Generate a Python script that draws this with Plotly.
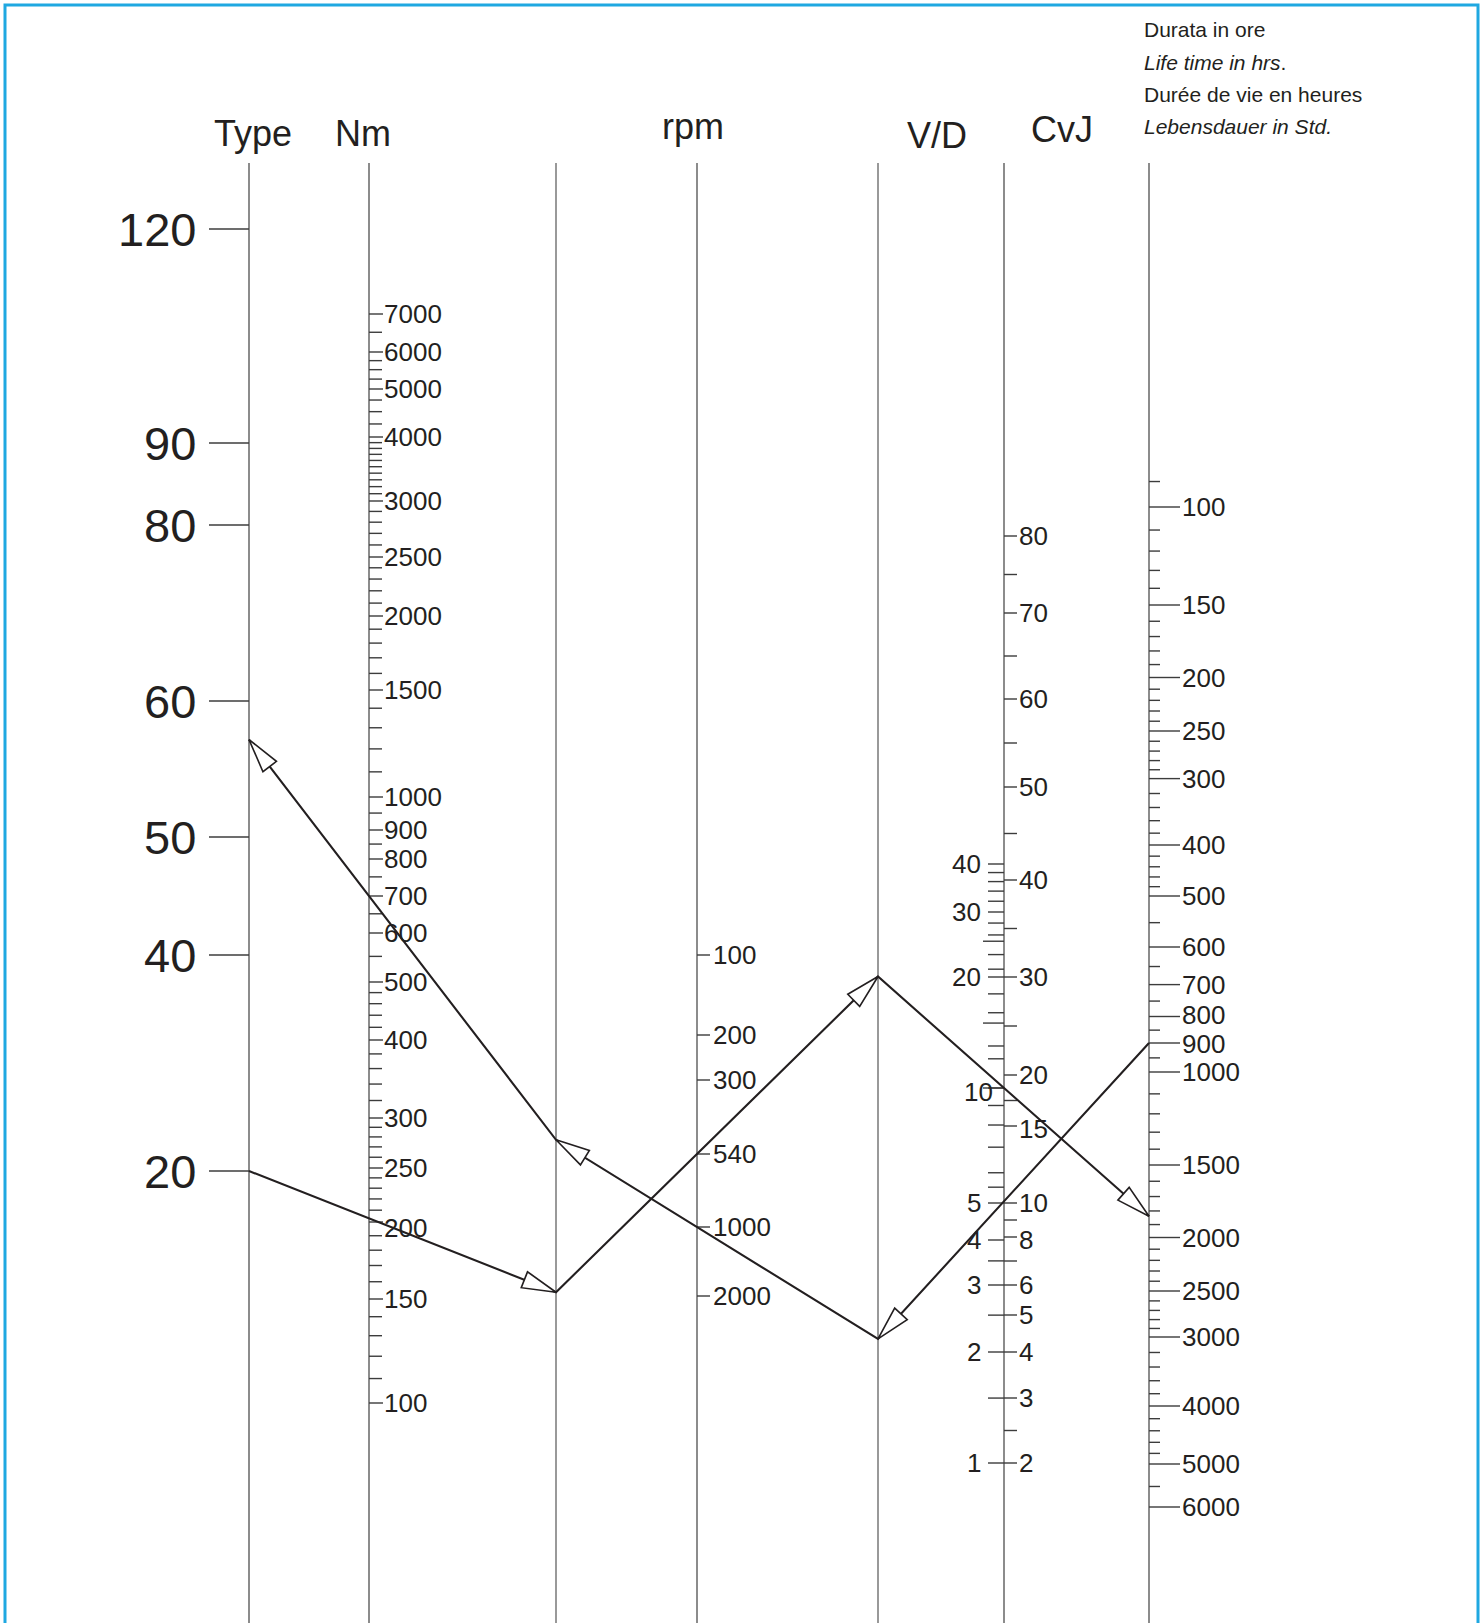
import numpy as np
import plotly.graph_objects as go

W, H = 1483, 1623

# ---------------------------------------------------------------- scale values
type_labels = [120, 90, 80, 60, 50, 40, 20]
nm_labels = [100, 150, 200, 250, 300, 400, 500, 600, 700, 800, 900, 1000,
             1500, 2000, 2500, 3000, 4000, 5000, 6000, 7000]
rpm_labels = [100, 200, 300, 540, 1000, 2000]
vd_labels = [1, 2, 3, 4, 5, 10, 20, 30, 40]
cvj_labels = [2, 3, 4, 5, 6, 8, 10, 15, 20, 30, 40, 50, 60, 70, 80]
life_labels = [100, 150, 200, 250, 300, 400, 500, 600, 700, 800, 900, 1000,
               1500, 2000, 2500, 3000, 4000, 5000, 6000]

# intermediate graduations
nm_minor = [110, 120, 130, 140, 160, 170, 180, 190, 210, 220, 230, 240, 260, 270,
            280, 290, 320, 340, 360, 380, 420, 440, 460, 480, 550, 650, 750, 850,
            950, 1100, 1200, 1300, 1400, 1600, 1700, 1800, 1900, 2100, 2200, 2300,
            2400, 2600, 2700, 2800, 2900, 3100, 3200, 3300, 3400, 3500, 3600, 3700,
            3800, 3900, 4250, 4500, 4750, 5250, 5500, 5750, 6500]
vd_minor = [1.5, 2.5, 3.5, 5.5, 6, 7, 8, 9, 12, 13, 16, 18, 21, 23, 26, 28,
            32, 34, 36, 38]
vd_long = [10, 15, 25]
cvj_minor = [2.5, 7, 9, 17.5, 25, 35, 45, 55, 65, 75]
life_minor = [90, 110, 120, 130, 140, 160, 170, 180, 190, 210, 220, 230, 240,
              260, 270, 280, 290, 320, 340, 360, 380, 420, 440, 460, 480, 550,
              650, 750, 850, 950, 1100, 1200, 1300, 1400, 1600, 1700, 1800, 1900,
              2100, 2200, 2300, 2400, 2600, 2700, 2800, 2900, 3200, 3400, 3600,
              3800, 4200, 4400, 4600, 4800, 5500]

# worked example A: type 20 -> torque -> rpm -> V/D -> life
ex_a_type = 20
ex_a_nm = 203
ex_a_rpm = 540
ex_a_vd = 10
# worked example B: life 900 -> V/D -> rpm -> torque -> type
ex_b_life = 900
ex_b_vd = 5.05
ex_b_rpm = 1000
ex_b_nm = 700

# ------------------------------------------------------------- nomogram layout
# printed station of each labelled graduation (drawing units from the top edge)
TYPE_ST = [229, 443, 525, 701, 837, 955, 1171]
NM_ST = [1403, 1299, 1222, 1168, 1118, 1040, 982, 933, 896, 859, 830, 797,
         690, 616, 557, 501, 437, 389, 352, 314]
RPM_ST = [955, 1035, 1080, 1154, 1227, 1296]
VD_ST = [1463, 1352, 1285, 1240, 1203, 1088, 977, 912, 864]
CVJ_ST = [1463, 1398, 1352, 1315, 1285, 1237, 1203, 1126, 1075, 977, 880, 787,
          699, 613, 536]
LIFE_ST = [507, 605, 677.5, 731, 778.6, 845, 896, 947, 984.6, 1016.5, 1043,
           1072, 1165, 1237.5, 1291, 1337, 1406, 1464, 1507]

X_TYPE, X_NM, X_REF1, X_RPM, X_REF2, X_CVJ, X_LIFE = 249, 369, 556, 697, 878, 1004, 1149
LINE_TOP = 163

INK = "#231F20"
FONT = "Liberation Sans, Arial, Helvetica, sans-serif"


class Scale:
    """Graduated nomogram scale, interpolated between its printed stations."""

    def __init__(self, values, stations, log=True):
        self.log = log
        u = np.log10(values) if log else np.asarray(values, float)
        order = np.argsort(u)
        self.u = np.asarray(u, float)[order]
        self.s = np.asarray(stations, float)[order]

    def __call__(self, v):
        u = np.log10(v) if self.log else float(v)
        uu, ss = self.u, self.s
        if u < uu[0]:
            return ss[0] + (u - uu[0]) * (ss[1] - ss[0]) / (uu[1] - uu[0])
        if u > uu[-1]:
            return ss[-1] + (u - uu[-1]) * (ss[-1] - ss[-2]) / (uu[-1] - uu[-2])
        return float(np.interp(u, uu, ss))


type_sc = Scale(type_labels, TYPE_ST, log=False)
nm_sc = Scale(nm_labels, NM_ST)
rpm_sc = Scale(rpm_labels, RPM_ST)
vd_sc = Scale(vd_labels, VD_ST)
cvj_sc = Scale(cvj_labels, CVJ_ST, log=False)
life_sc = Scale(life_labels, LIFE_ST)

fig = go.Figure()
shapes = []
annotations = []

# vertical scale lines
for x in (X_TYPE, X_NM, X_RPM, X_CVJ, X_LIFE):
    shapes.append(dict(type="line", xref="x", yref="y", x0=x, x1=x, y0=LINE_TOP, y1=H,
                       line=dict(color="#8c8c8c", width=2), layer="below"))
for x in (X_REF1, X_REF2):
    shapes.append(dict(type="line", xref="x", yref="y", x0=x, x1=x, y0=LINE_TOP, y1=H,
                       line=dict(color="#555555", width=1.2), layer="below"))


def ticks(scale, values, x0, x1):
    xs, ys = [], []
    for v in values:
        y = scale(v)
        xs += [x0, x1, None]
        ys += [y, y, None]
    return xs, ys


tick_sets = [
    ticks(type_sc, type_labels, X_TYPE - 40, X_TYPE),
    ticks(nm_sc, nm_labels, X_NM, X_NM + 14),
    ticks(nm_sc, nm_minor, X_NM, X_NM + 13),
    ticks(rpm_sc, rpm_labels, X_RPM, X_RPM + 13),
    ticks(vd_sc, vd_labels, X_CVJ - 16, X_CVJ),
    ticks(vd_sc, vd_minor, X_CVJ - 16, X_CVJ),
    ticks(vd_sc, vd_long, X_CVJ - 21, X_CVJ),
    ticks(cvj_sc, cvj_labels, X_CVJ, X_CVJ + 13),
    ticks(cvj_sc, cvj_minor, X_CVJ, X_CVJ + 13),
    ticks(life_sc, life_labels, X_LIFE, X_LIFE + 31),
    ticks(life_sc, life_minor, X_LIFE, X_LIFE + 11),
]
tx, ty = [], []
for xs, ys in tick_sets:
    tx += xs
    ty += ys
fig.add_trace(go.Scatter(x=tx, y=ty, mode="lines", hoverinfo="skip",
                         line=dict(color="#3c3c3c", width=1.4), showlegend=False))


def label(x, y, text, size, anchor, yshift=0):
    annotations.append(dict(x=x, y=y, xref="x", yref="y", text=str(text), showarrow=False,
                            xanchor=anchor, yanchor="middle", yshift=yshift,
                            borderpad=0, borderwidth=0,
                            font=dict(family=FONT, size=size, color=INK)))


for v in type_labels:
    label(X_TYPE - 53, type_sc(v), v, 47, "right")
for v in nm_labels:
    label(X_NM + 15, nm_sc(v), v, 26, "left", yshift=-6 if v == 200 else 0)
for v in rpm_labels:
    label(X_RPM + 16, rpm_sc(v), v, 26, "left")
for v in vd_labels:
    if v == 10:
        label(X_CVJ - 11, vd_sc(v) + 4, v, 26, "right")
    else:
        label(X_CVJ - 23, vd_sc(v), v, 26, "right")
for v in cvj_labels:
    label(X_CVJ + 15, cvj_sc(v), v, 26, "left", yshift=-3 if v in (8, 15) else 0)
life_nudge = {800: 2, 900: -1}
for v in life_labels:
    label(X_LIFE + 33, life_sc(v), v, 26, "left", yshift=life_nudge.get(v, 0))

# scale headings
for txt, x, y in [("Type", 253, 133), ("Nm", 363, 133), ("rpm", 693, 126),
                  ("V/D", 937, 135), ("CvJ", 1062, 129)]:
    annotations.append(dict(x=x, y=y, xref="x", yref="y", text=txt, showarrow=False,
                            xanchor="center", yanchor="middle",
                            font=dict(family=FONT, size=36, color=INK)))

for txt, y in [("Durata in ore", 29), ("<i>Life time in hrs</i>.", 62),
               ("Durée de vie en heures", 94), ("<i>Lebensdauer in Std.</i>", 126)]:
    annotations.append(dict(x=1142, y=y, xref="x", yref="y", text=txt, showarrow=False,
                            xanchor="left", yanchor="middle",
                            font=dict(family=FONT, size=21, color=INK)))


# ------------------------------------------------------------- worked examples
def through(p0, x_mid, y_mid, x_end):
    slope = (y_mid - p0[1]) / (x_mid - p0[0])
    return (x_end, p0[1] + slope * (x_end - p0[0]))


def head(tip, tail, length=34, half=8.5):
    dx, dy = tip[0] - tail[0], tip[1] - tail[1]
    n = np.hypot(dx, dy)
    ux, uy = dx / n, dy / n
    bx, by = tip[0] - ux * length, tip[1] - uy * length
    px, py = -uy, ux
    p1 = (bx + px * half, by + py * half)
    p2 = (bx - px * half, by - py * half)
    return dict(type="path", xref="x", yref="y",
                path=f"M {tip[0]:.2f},{tip[1]:.2f} L {p1[0]:.2f},{p1[1]:.2f} "
                     f"L {p2[0]:.2f},{p2[1]:.2f} Z",
                fillcolor="white", line=dict(color=INK, width=1.6), layer="above")


a0 = (X_TYPE, type_sc(ex_a_type))
a1 = through(a0, X_NM, nm_sc(ex_a_nm), X_REF1)
a2 = through(a1, X_RPM, rpm_sc(ex_a_rpm), X_REF2)
a3 = through(a2, X_CVJ, vd_sc(ex_a_vd), X_LIFE)

b0 = (X_LIFE, life_sc(ex_b_life))
b1 = through(b0, X_CVJ, vd_sc(ex_b_vd), X_REF2)
b2 = through(b1, X_RPM, rpm_sc(ex_b_rpm), X_REF1)
b3 = through(b2, X_NM, nm_sc(ex_b_nm), X_TYPE)

for pts in ([a0, a1, a2, a3], [b0, b1, b2, b3]):
    fig.add_trace(go.Scatter(x=[p[0] for p in pts], y=[p[1] for p in pts], mode="lines",
                             hoverinfo="skip", showlegend=False,
                             line=dict(color=INK, width=2.1)))
    for i in range(1, 4):
        shapes.append(head(pts[i], pts[i - 1]))

# frame
shapes.append(dict(type="rect", xref="x", yref="y", x0=5, x1=1478, y0=5, y1=H + 40,
                   line=dict(color="#1FA8E1", width=3), fillcolor="rgba(0,0,0,0)",
                   layer="above"))

fig.update_layout(
    width=W, height=H,
    margin=dict(l=0, r=0, t=0, b=0),
    paper_bgcolor="white", plot_bgcolor="white",
    xaxis=dict(range=[0, W], visible=False, fixedrange=True),
    yaxis=dict(range=[H, 0], visible=False, fixedrange=True),
    shapes=shapes, annotations=annotations,
    showlegend=False,
)

fig.write_html("out.html")
